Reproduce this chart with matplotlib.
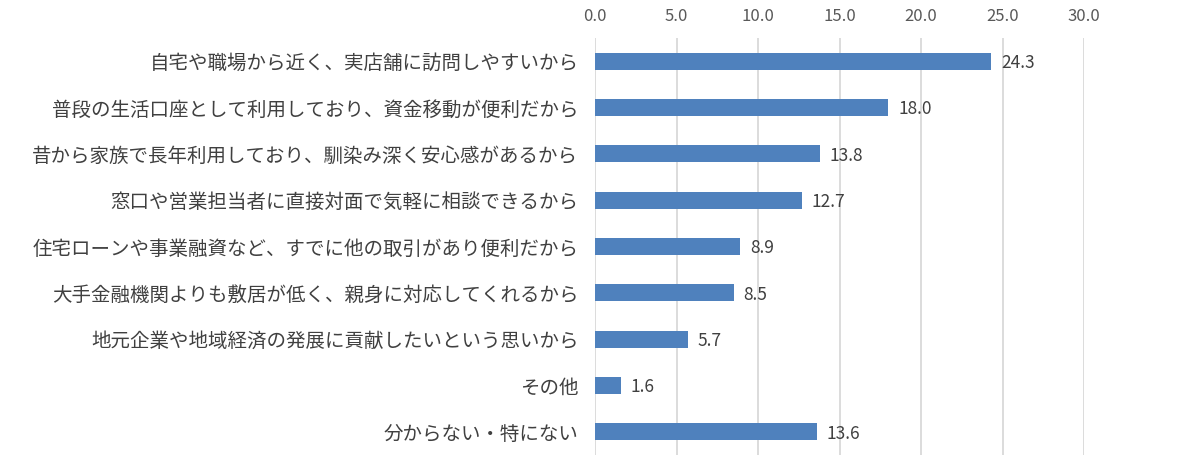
import numpy as np
import matplotlib
matplotlib.use('Agg')
import matplotlib.pyplot as plt

plt.rcParams['font.family'] = ['Noto Sans CJK JP', 'DejaVu Sans']

labels = ['自宅や職場から近く、実店舗に訪問しやすいから',
          '普段の生活口座として利用しており、資金移動が便利だから',
          '昔から家族で長年利用しており、馴染み深く安心感があるから',
          '窓口や営業担当者に直接対面で気軽に相談できるから',
          '住宅ローンや事業融資など、すでに他の取引があり便利だから',
          '大手金融機関よりも敷居が低く、親身に対応してくれるから',
          '地元企業や地域経済の発展に貢献したいという思いから',
          'その他',
          '分からない・特にない']
values = [24.3, 18.0, 13.8, 12.7, 8.9, 8.5, 5.7, 1.6, 13.6]
xticks = [0, 5, 10, 15, 20, 25, 30]

fig = plt.figure(figsize=(11.86, 4.72), dpi=100)
ax = fig.add_axes([0.5017, 0.036, 0.4124, 0.8835])

y = np.arange(len(labels))
ax.barh(y, values, height=0.37, color='#4F81BD', zorder=3)
for yi, v in zip(y, values):
    ax.text(v + 0.6, yi + 0.04, f'{v:.1f}', va='center', ha='left', fontsize=12.5, color='#404040')

ax.set_ylim(len(labels) - 0.5, -0.5)
ax.set_xlim(0, 30)
ax.set_yticks(y)
ax.set_yticklabels(labels, fontsize=14, color='#404040')
ax.set_xticks(xticks)
ax.set_xticklabels([f'{t:.1f}' for t in xticks], fontsize=12, color='#595959')
ax.xaxis.tick_top()
ax.tick_params(axis='both', length=0)
ax.tick_params(axis='x', pad=9)
ax.tick_params(axis='y', pad=12)
ax.grid(axis='x', color='#D9D9D9', linewidth=1.3, zorder=0)
for s in ax.spines.values():
    s.set_visible(False)

plt.savefig('out.png', dpi=100)
